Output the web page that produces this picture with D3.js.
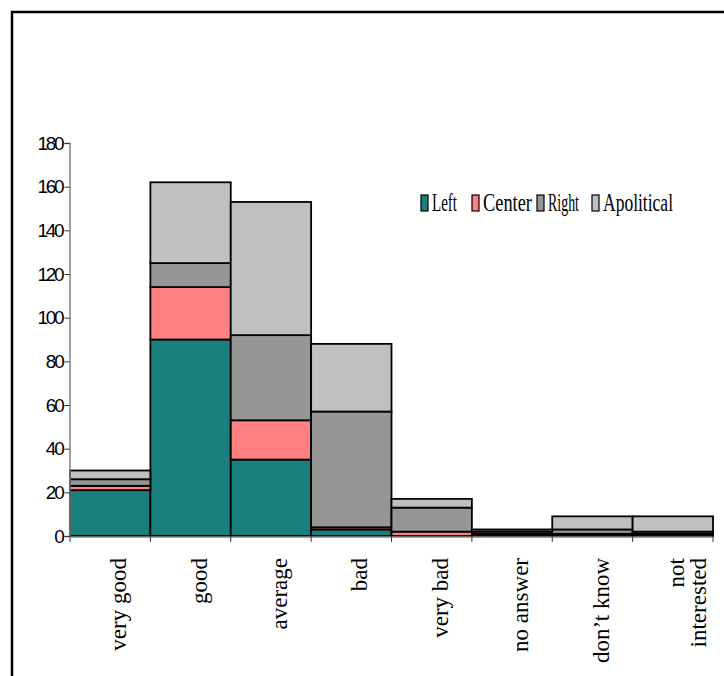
<!DOCTYPE html>
<html>
<head>
<meta charset="utf-8">
<script src="https://cdn.jsdelivr.net/npm/d3@7"></script>
<style>
  html, body { margin: 0; padding: 0; background: #fff; }
  svg { display: block; }
</style>
</head>
<body>
<svg id="chart" width="724" height="676"></svg>
<script>
// Opinion ratings, split by political leaning
const categories = ["very good", "good", "average", "bad", "very bad", "no answer", "don\u2019t know", "not interested"];
const seriesNames = ["Left", "Center", "Right", "Apolitical"];
const leftValues = [21, 90, 35, 3, 0, 1, 1, 1];
const centerValues = [2, 24, 18, 1, 2, 1, 0, 0];
const rightValues = [3, 11, 39, 53, 11, 1, 2, 1];
const apoliticalValues = [4, 37, 61, 31, 4, 0, 6, 7];
const yTicks = [0, 20, 40, 60, 80, 100, 120, 140, 160, 180];

const colors = ["#1a807e", "#ff8080", "#969696", "#c0c0c0"];

const rows = categories.map((c, i) => ({
  category: c,
  Left: leftValues[i],
  Center: centerValues[i],
  Right: rightValues[i],
  Apolitical: apoliticalValues[i]
}));

const svg = d3.select("#chart");

// outer frame
svg.append("path")
  .attr("d", "M12,690 L12,12 L740,12")
  .attr("fill", "none")
  .attr("stroke", "#000")
  .attr("stroke-width", 2.5);

const x = d3.scaleBand().domain(categories).range([70, 713]).paddingInner(0).paddingOuter(0);
const y = d3.scaleLinear().domain([0, 180]).range([536, 143]);

const stack = d3.stack().keys(seriesNames);
const layers = stack(rows);

// stacked bars
svg.append("g").selectAll("g")
  .data(layers)
  .join("g")
  .attr("fill", (d, i) => colors[i])
  .selectAll("rect")
  .data(d => d)
  .join("rect")
  .attr("x", d => x(d.data.category))
  .attr("width", x.bandwidth())
  .attr("y", d => y(d[1]))
  .attr("height", d => y(d[0]) - y(d[1]))
  .attr("stroke", "#000")
  .attr("stroke-width", 1.8);

// y axis
const yAxis = svg.append("g")
  .attr("transform", "translate(69.5,0)")
  .call(d3.axisLeft(y).tickValues(yTicks).tickSize(5).tickPadding(2));
yAxis.select(".domain").attr("stroke", "#808080").attr("stroke-width", 1.5);
yAxis.selectAll(".tick line").attr("stroke", "#333");
yAxis.selectAll(".tick text")
  .attr("font-family", "'Liberation Sans', Arial, sans-serif")
  .attr("font-size", 19)
  .attr("letter-spacing", "-2.2px")
  .attr("fill", "#000");

// x axis
const xAxis = svg.append("g")
  .attr("transform", "translate(0,536.5)")
  .call(d3.axisBottom(x).tickSize(0).tickFormat(""));
xAxis.select(".domain").attr("stroke", "#808080").attr("stroke-width", 1.5);

// tick marks at category boundaries
const edges = categories.map(c => x(c)).concat([x.range()[1]]);
svg.append("g").selectAll("line")
  .data(edges)
  .join("line")
  .attr("x1", d => d).attr("x2", d => d)
  .attr("y1", 536).attr("y2", 542)
  .attr("stroke", "#333")
  .attr("stroke-width", 1);

// rotated category labels
const labels = svg.append("g")
  .attr("font-family", "'Liberation Serif', 'Times New Roman', serif")
  .attr("font-size", 23)
  .attr("fill", "#000");

categories.forEach(c => {
  const words = c === "not interested" ? ["not", "interested"] : [c];
  const cx = x(c) + x.bandwidth() / 2;
  const offset = words.length > 1 ? 14 : 8;
  const t = labels.append("text")
    .attr("text-anchor", "end")
    .attr("transform", `translate(${cx + offset},558) rotate(-90)`);
  words.forEach((w, i) => {
    t.append("tspan")
      .attr("x", 0)
      .attr("y", (i - (words.length - 1) / 2) * 22)
      .attr("dy", "0.35em")
      .text(w);
  });
});

// legend: condensed serif labels beside narrow swatches
const legendOffsets = [0, 51, 116, 171];
const legendWidths = [25, 49, 31, 70];
const legend = svg.append("g").attr("transform", "translate(421,195)");
seriesNames.forEach((name, i) => {
  const lx = legendOffsets[i];
  legend.append("rect")
    .attr("x", lx).attr("y", 0)
    .attr("width", 7).attr("height", 16)
    .attr("fill", colors[i])
    .attr("stroke", "#000")
    .attr("stroke-width", 1.2);
  legend.append("text")
    .attr("x", lx + 11)
    .attr("y", 16)
    .attr("font-family", "'Liberation Serif', 'Times New Roman', serif")
    .attr("font-size", 26)
    .attr("textLength", legendWidths[i])
    .attr("lengthAdjust", "spacingAndGlyphs")
    .text(name);
});
</script>
</body>
</html>
